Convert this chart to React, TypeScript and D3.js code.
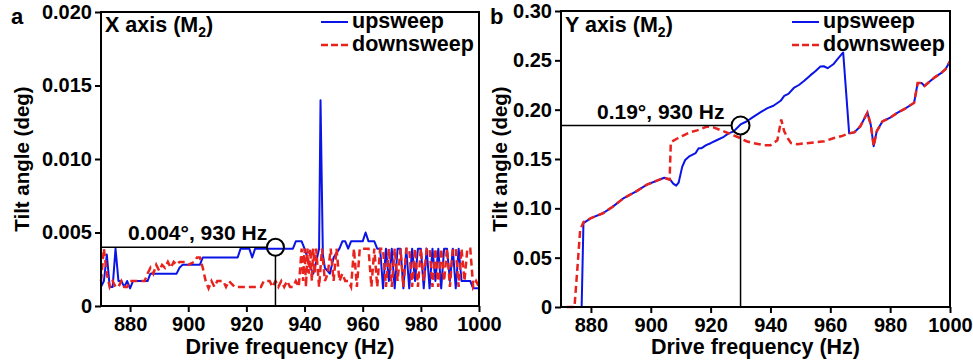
import React, { useEffect, useRef } from 'react'
import * as d3 from 'd3'

// panel a: X axis tilt, [frequency Hz, tilt deg]
const xUpsweep: [number, number][] = [
  [870, 0.0013], [871, 0.0017], [872, 0.0035], [873, 0.0013], [874, 0.0013], [875, 0.0039],
  [876, 0.0017], [877, 0.0017], [878, 0.0013], [879, 0.0017], [880, 0.0012], [881, 0.0017],
  [886, 0.0017], [887, 0.0022], [896, 0.0022], [897, 0.0026], [898, 0.0028], [904, 0.0028],
  [905, 0.0033], [917, 0.0033], [918, 0.0039], [921, 0.0039], [922, 0.0033], [923, 0.0039],
  [936, 0.0039], [937, 0.0044], [939, 0.0044], [940, 0.0039], [941, 0.0033], [942, 0.0026],
  [943, 0.0022], [944, 0.003], [945, 0.0039], [945.5, 0.014], [946.3, 0.0035], [947, 0.0026],
  [948.7, 0.0022], [950, 0.0033], [952, 0.0039], [953, 0.0044], [954, 0.0044], [955, 0.0039],
  [956, 0.0044], [960, 0.0044], [961, 0.005], [962, 0.0044], [964, 0.0044], [965, 0.0039],
  [966, 0.0039], [967, 0.0012], [968, 0.0039], [969, 0.0017], [970, 0.0039], [971, 0.0012],
  [972, 0.0039], [973, 0.0039], [974, 0.0012], [975, 0.0039], [976, 0.0012], [977, 0.0039],
  [978, 0.0017], [979, 0.0039], [980, 0.0039], [981, 0.0012], [982, 0.0039], [983, 0.0012],
  [984, 0.0039], [985, 0.0017], [986, 0.0039], [987, 0.0012], [988, 0.0039], [989, 0.0039],
  [990, 0.0017], [991, 0.0039], [992, 0.0012], [993, 0.0039], [994, 0.0017], [997, 0.0017],
  [998, 0.0012], [1000, 0.0012],
]
const xDownsweep: [number, number][] = [
  [870, 0.0017], [871, 0.0039], [872, 0.0022], [873, 0.0013], [874, 0.0017], [875, 0.0013],
  [876, 0.0013], [877, 0.0017], [878, 0.0013], [879, 0.0013], [880, 0.0017], [885, 0.0017],
  [886, 0.0022], [887, 0.0026], [888, 0.0022], [889, 0.0028], [890, 0.0024], [891, 0.0028],
  [892, 0.0026], [893, 0.003], [894, 0.0026], [895, 0.003], [896, 0.0028], [897, 0.003],
  [899, 0.003], [900, 0.0028], [902, 0.003], [903, 0.0033], [904, 0.0033], [905, 0.0026],
  [906, 0.0017], [907, 0.0012], [908, 0.0017], [909, 0.0013], [910, 0.0017], [912, 0.0017],
  [913, 0.0013], [914, 0.0017], [916, 0.0013], [925, 0.0013], [926, 0.0017], [928, 0.0017],
  [929, 0.0013], [930, 0.0017], [931, 0.0013], [932, 0.0017], [933, 0.0013], [934, 0.0017],
  [935, 0.0013], [936, 0.0013], [937, 0.0017], [938, 0.0013], [939, 0.0039], [939.5, 0.0017],
  [940, 0.0039], [940.5, 0.0013], [941, 0.0039], [941.5, 0.0022], [942, 0.0039], [942.5, 0.0017],
  [943, 0.0039], [943.5, 0.0022], [944, 0.0039], [945, 0.0013], [946, 0.0039], [947, 0.0017],
  [948, 0.0022], [949, 0.0039], [950, 0.0017], [951, 0.0039], [952, 0.0017], [953, 0.0022],
  [954, 0.0017], [955, 0.0017], [956, 0.0013], [957, 0.0039], [958, 0.0013], [959, 0.0039],
  [962, 0.0039], [963, 0.0013], [964, 0.0039], [965, 0.0013], [966, 0.0039], [967, 0.0039],
  [968, 0.0013], [969, 0.0039], [970, 0.0013], [971, 0.0039], [972, 0.0017], [973, 0.0039],
  [974, 0.0013], [975, 0.0039], [976, 0.0039], [977, 0.0013], [978, 0.0039], [979, 0.0013],
  [980, 0.0039], [981, 0.0017], [982, 0.0039], [983, 0.0039], [984, 0.0013], [985, 0.0039],
  [986, 0.0013], [987, 0.0039], [988, 0.0017], [989, 0.0039], [990, 0.0013], [991, 0.0039],
  [992, 0.0039], [993, 0.0013], [994, 0.0039], [995, 0.0017], [996, 0.0039], [997, 0.0039],
  [998, 0.0013], [999, 0.0017], [1000, 0.0013],
]

// panel b: Y axis tilt
const yUpsweep: [number, number][] = [
  [871.9, 0], [876.9, 0], [877.5, 0.085], [880, 0.09], [884, 0.095], [887, 0.101], [890.8, 0.11],
  [895, 0.117], [898.7, 0.124], [902, 0.128], [904.5, 0.131], [906.5, 0.129], [907.5, 0.125],
  [908.5, 0.123], [909.3, 0.126], [910.5, 0.142], [911.5, 0.149], [913, 0.153], [915, 0.156],
  [916, 0.161], [917, 0.161], [918.5, 0.164], [920, 0.166], [922, 0.169], [924.4, 0.1725],
  [926, 0.176], [927.7, 0.178], [930, 0.185], [932, 0.188], [934.4, 0.193], [937, 0.198],
  [939, 0.2015], [941, 0.204], [943.4, 0.209], [944.6, 0.214], [946, 0.216], [947.8, 0.222],
  [949.5, 0.225], [951.2, 0.229], [953.4, 0.235], [955, 0.239], [956.7, 0.2437], [957.8, 0.244],
  [959.1, 0.242], [961, 0.246], [962.2, 0.2505], [964.3, 0.258], [966.3, 0.176], [968, 0.177],
  [970, 0.183], [972.4, 0.197], [973.5, 0.185], [974.5, 0.163], [975.5, 0.178], [977.4, 0.188],
  [980, 0.192], [982.5, 0.197], [985, 0.201], [987, 0.205], [988, 0.207], [989.2, 0.227],
  [990.5, 0.227], [991.5, 0.224], [993, 0.228], [995, 0.233], [997, 0.237], [998.5, 0.241],
  [1000, 0.249],
]
const yDownsweep: [number, number][] = [
  [871.9, 0], [874.5, 0], [875.5, 0.04], [876.4, 0.078], [877.5, 0.086], [880, 0.09], [884, 0.095],
  [887, 0.101], [890.8, 0.11], [895, 0.117], [898.7, 0.124], [902, 0.128], [904.5, 0.131],
  [906.3, 0.129], [906.7, 0.167], [909, 0.171], [911, 0.174], [913, 0.177], [915.5, 0.179],
  [918.8, 0.1828], [921, 0.182], [924.4, 0.178], [927.7, 0.174], [930, 0.171], [932, 0.168],
  [934.4, 0.166], [937.8, 0.164], [940, 0.164], [942.3, 0.169], [943.6, 0.19], [944.6, 0.178],
  [946, 0.17], [946.9, 0.166], [949, 0.165], [952, 0.166], [955, 0.167], [958, 0.168], [961, 0.171],
  [963.6, 0.173], [966.3, 0.176], [968, 0.177], [970, 0.183], [972.4, 0.197], [973.5, 0.185],
  [974.5, 0.163], [975.5, 0.178], [977.4, 0.188], [980, 0.192], [982.5, 0.197], [985, 0.201],
  [987, 0.205], [988, 0.207], [989.2, 0.227], [990.5, 0.227], [991.5, 0.224], [993, 0.228],
  [995, 0.233], [997, 0.237], [998.5, 0.241], [1000, 0.249],
]

const freqTicks = [880, 900, 920, 940, 960, 980, 1000]
const xTiltTicks = [0, 0.005, 0.01, 0.015, 0.02]
const yTiltTicks = [0, 0.05, 0.1, 0.15, 0.2, 0.25, 0.3]

const FONT = "'Liberation Sans', Arial, sans-serif"
const BLUE = '#0a14e6'
const RED = '#e8231e'

function drawPanel(svg: any, opt: any) {
  const g = svg.append('g')
  const x = d3.scaleLinear().domain([870, 1000]).range([opt.left, opt.right])
  const y = d3.scaleLinear().domain([0, opt.yMax]).range([opt.bottom, opt.top])

  const yAxis = d3.axisLeft(y).tickValues(opt.yTicks).tickSize(6).tickSizeOuter(0).tickPadding(3)
    .tickFormat((d: any) => d === 0 ? '0' : opt.fmt(d))
  const xAxis = d3.axisBottom(x).tickValues(freqTicks).tickSize(6).tickSizeOuter(0).tickPadding(5)
    .tickFormat(d3.format('d'))

  const ya = g.append('g').attr('transform', 'translate(' + opt.left + ',0)').call(yAxis)
  const xa = g.append('g').attr('transform', 'translate(0,' + opt.bottom + ')').call(xAxis)
  ;[ya, xa].forEach((a: any) => {
    a.select('.domain').remove()
    a.selectAll('line').attr('stroke', '#000').attr('stroke-width', 2)
    a.selectAll('text').attr('fill', '#000').style('font-family', FONT)
      .style('font-size', '20px').style('font-weight', 'bold')
  })

  const line = d3.line<[number, number]>().x(d => x(d[0])).y(d => y(d[1]))

  g.append('path').datum(opt.up).attr('d', line).attr('fill', 'none')
    .attr('stroke', BLUE).attr('stroke-width', 2).attr('stroke-linejoin', 'round')
  g.append('path').datum(opt.down).attr('d', line).attr('fill', 'none')
    .attr('stroke', RED).attr('stroke-width', 2.5).attr('stroke-dasharray', '7,4')

  // marker at 930 Hz
  const cx = x(930), cy = y(opt.markVal)
  g.append('line').attr('x1', opt.left).attr('x2', cx - opt.r).attr('y1', cy).attr('y2', cy)
    .attr('stroke', '#000').attr('stroke-width', 1.5)
  g.append('line').attr('x1', cx).attr('x2', cx).attr('y1', cy + opt.r).attr('y2', opt.bottom)
    .attr('stroke', '#000').attr('stroke-width', 1.5)
  g.append('circle').attr('cx', cx).attr('cy', cy).attr('r', opt.r)
    .attr('fill', 'none').attr('stroke', '#000').attr('stroke-width', 2)

  const txt = (s: any) => s.attr('fill', '#000').style('font-family', FONT).style('font-weight', 'bold')

  txt(g.append('text')).attr('x', opt.markX).attr('y', opt.markY).style('font-size', '21px').text(opt.markLabel)

  g.append('rect').attr('x', opt.left).attr('y', opt.top)
    .attr('width', opt.right - opt.left).attr('height', opt.bottom - opt.top)
    .attr('fill', 'none').attr('stroke', '#000').attr('stroke-width', 2)

  // title with subscript
  const t = txt(g.append('text')).attr('x', opt.left + 4).attr('y', 32).style('font-size', '21.5px')
  t.append('tspan').text(opt.title + ' (M')
  t.append('tspan').attr('dy', 5).style('font-size', '14px').text('2')
  t.append('tspan').attr('dy', -5).text(')')

  // legend
  const lx = opt.legendX
  g.append('line').attr('x1', lx).attr('x2', lx + 27).attr('y1', 22).attr('y2', 22)
    .attr('stroke', BLUE).attr('stroke-width', 2)
  g.append('line').attr('x1', lx).attr('x2', lx + 27).attr('y1', 45).attr('y2', 45)
    .attr('stroke', RED).attr('stroke-width', 2.5).attr('stroke-dasharray', '7,3')
  txt(g.append('text')).attr('x', lx + 31).attr('y', 28).style('font-size', '21.5px').text('upsweep')
  txt(g.append('text')).attr('x', lx + 31).attr('y', 51).style('font-size', '21.5px').text('downsweep')

  // panel letter and axis titles
  txt(g.append('text')).attr('x', opt.letterX).attr('y', 24).style('font-size', '22px').text(opt.letter)
  txt(g.append('text')).attr('transform', 'translate(' + opt.yTitleX + ',' + ((opt.top + opt.bottom) / 2) + ') rotate(-90)')
    .attr('text-anchor', 'middle').style('font-size', '20.5px').text('Tilt angle (deg)')
  txt(g.append('text')).attr('x', (opt.left + opt.right) / 2).attr('y', 354)
    .attr('text-anchor', 'middle').style('font-size', '21.5px').text('Drive frequency (Hz)')
}

export default function App() {
  const ref = useRef<SVGSVGElement>(null)

  useEffect(() => {
    const svg = d3.select(ref.current)
    svg.selectAll('*').remove()
    drawPanel(svg, {
      left: 101, right: 479, top: 12, bottom: 306, yMax: 0.02, yTicks: xTiltTicks,
      fmt: d3.format('.3f'), up: xUpsweep, down: xDownsweep, markVal: 0.004, r: 8.5,
      markLabel: '0.004°, 930 Hz', markX: 128, markY: 240, title: 'X axis',
      legendX: 321, letter: 'a', letterX: 11, yTitleX: 29,
    })
    drawPanel(svg, {
      left: 561, right: 950, top: 11, bottom: 307, yMax: 0.3, yTicks: yTiltTicks,
      fmt: d3.format('.2f'), up: yUpsweep, down: yDownsweep, markVal: 0.184, r: 9,
      markLabel: '0.19°, 930 Hz', markX: 597, markY: 119, title: 'Y axis',
      legendX: 792, letter: 'b', letterX: 490, yTitleX: 507,
    })
  }, [])

  return (
    <svg ref={ref} width={973} height={362}
      style={{ position: 'absolute', left: 0, top: 0, background: '#fff' }} />
  )
}
